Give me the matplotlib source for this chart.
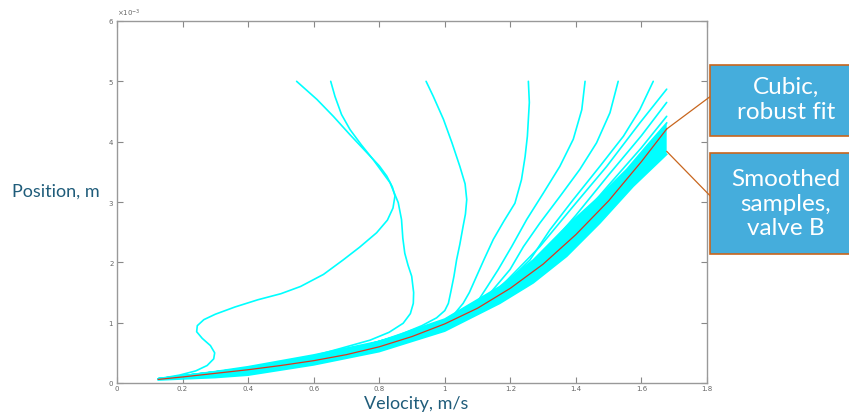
import numpy as np
import matplotlib.pyplot as plt
from matplotlib.patches import Rectangle
from matplotlib.ticker import ScalarFormatter

# positions in units of 1e-3 m, velocities in m/s

# cubic robust fit (red)
fit_v = [0.126, 0.2, 0.3, 0.4, 0.5, 0.6, 0.7, 0.8, 0.9, 1.0, 1.1, 1.2, 1.3, 1.4, 1.5, 1.6, 1.677]
fit_p = [0.06, 0.10, 0.16, 0.22, 0.29, 0.37, 0.47, 0.60, 0.77, 0.98, 1.24, 1.57, 1.97, 2.46, 3.02, 3.67, 4.21]

# dense bundle of smoothed samples: upper and lower edge
band_up_v = [0.126, 0.3, 0.4, 0.6, 0.8, 1.0, 1.168, 1.27, 1.372, 1.473, 1.555, 1.616, 1.677]
band_up_p = [0.07, 0.19, 0.27, 0.465, 0.69, 1.06, 1.60, 2.04, 2.60, 3.10, 3.54, 3.93, 4.31]
band_lo_v = [0.126, 0.3, 0.4, 0.6, 0.8, 1.0, 1.168, 1.27, 1.372, 1.473, 1.575, 1.677]
band_lo_p = [0.05, 0.09, 0.13, 0.30, 0.52, 0.86, 1.32, 1.66, 2.10, 2.65, 3.26, 3.79]

# individual samples that leave the bundle
a_v = [0.126, 0.19, 0.24, 0.275, 0.295, 0.298, 0.285, 0.26, 0.243, 0.245, 0.265, 0.30, 0.36, 0.43,
       0.50, 0.56, 0.63, 0.69, 0.74, 0.792, 0.825, 0.842, 0.848, 0.84, 0.823, 0.80, 0.762, 0.71,
       0.66, 0.61, 0.548]
a_p = [0.07, 0.13, 0.20, 0.29, 0.40, 0.50, 0.62, 0.74, 0.85, 0.95, 1.05, 1.14, 1.26, 1.38,
       1.48, 1.60, 1.80, 2.04, 2.25, 2.49, 2.70, 2.90, 3.10, 3.25, 3.43, 3.60, 3.82, 4.12,
       4.42, 4.70, 5.0]
b_v = [0.126, 0.3, 0.45, 0.6, 0.68, 0.772, 0.83, 0.873, 0.895, 0.904, 0.905, 0.899, 0.888, 0.878,
       0.872, 0.868, 0.858, 0.833, 0.782, 0.745, 0.711, 0.685, 0.665, 0.652]
b_p = [0.07, 0.17, 0.30, 0.45, 0.57, 0.71, 0.84, 0.99, 1.15, 1.32, 1.50, 1.77, 1.95, 2.15,
       2.40, 2.71, 2.99, 3.32, 3.70, 3.95, 4.20, 4.45, 4.75, 5.0]
c_v = [0.126, 0.4, 0.6, 0.75, 0.863, 0.93, 0.975, 1.0, 1.011, 1.018, 1.028, 1.036, 1.046, 1.056,
       1.063, 1.067, 1.062, 1.046, 1.022, 0.996, 0.965, 0.943]
c_p = [0.07, 0.20, 0.38, 0.58, 0.80, 0.95, 1.08, 1.20, 1.32, 1.50, 1.77, 2.04, 2.30, 2.60,
       2.80, 3.04, 3.30, 3.59, 3.98, 4.37, 4.75, 5.0]
d_v = [0.126, 0.4, 0.6, 0.8, 0.92, 0.985, 1.03, 1.056, 1.075, 1.097, 1.12, 1.148, 1.18, 1.214,
       1.234, 1.245, 1.252, 1.258, 1.255]
d_p = [0.07, 0.21, 0.38, 0.62, 0.82, 0.99, 1.15, 1.32, 1.50, 1.77, 2.05, 2.38, 2.68, 2.98,
       3.37, 3.75, 4.09, 4.65, 5.0]
e_v = [0.126, 0.6, 0.9, 1.0, 1.06, 1.10, 1.13, 1.163, 1.204, 1.250, 1.301, 1.351, 1.392, 1.418, 1.428]
e_p = [0.07, 0.38, 0.78, 0.98, 1.15, 1.35, 1.60, 1.88, 2.26, 2.71, 3.15, 3.59, 4.04, 4.53, 5.0]
f_v = [0.126, 0.6, 0.9, 1.0, 1.08, 1.14, 1.199, 1.240, 1.290, 1.351, 1.412, 1.463, 1.504, 1.529]
f_p = [0.07, 0.38, 0.78, 0.99, 1.20, 1.50, 1.88, 2.26, 2.65, 3.09, 3.54, 3.98, 4.48, 5.0]
g_v = [0.126, 0.6, 1.0, 1.10, 1.18, 1.260, 1.321, 1.392, 1.473, 1.545, 1.595, 1.636]
g_p = [0.07, 0.38, 1.0, 1.28, 1.62, 2.04, 2.54, 3.04, 3.59, 4.09, 4.53, 5.0]
h_v = [0.126, 0.6, 1.0, 1.15, 1.290, 1.392, 1.494, 1.595, 1.677]
h_p = [0.07, 0.38, 1.0, 1.48, 2.26, 2.93, 3.59, 4.31, 4.87]
i_v = [0.126, 0.6, 1.0, 1.15, 1.30, 1.40, 1.50, 1.60, 1.677]
i_p = [0.07, 0.38, 1.0, 1.45, 2.15, 2.78, 3.45, 4.10, 4.65]
j_v = [0.126, 0.6, 1.0, 1.15, 1.30, 1.40, 1.50, 1.60, 1.677]
j_p = [0.07, 0.38, 1.0, 1.43, 2.08, 2.65, 3.28, 3.90, 4.42]

samples = [(a_v, a_p), (b_v, b_p), (c_v, c_p), (d_v, d_p), (e_v, e_p),
           (f_v, f_p), (g_v, g_p), (h_v, h_p), (i_v, i_p), (j_v, j_p)]

x_ticks = [0, 0.2, 0.4, 0.6, 0.8, 1.0, 1.2, 1.4, 1.6, 1.8]
x_ticklabels = ['0', '0.2', '0.4', '0.6', '0.8', '1', '1.2', '1.4', '1.6', '1.8']

cyan = '#00FFFF'
label_col = '#1F5C7A'
box_col = '#45ADDC'
orange = '#C8661E'

W, H = 849, 413
fig = plt.figure(figsize=(W / 100, H / 100), dpi=100)
ax = fig.add_axes([117 / W, 30 / H, 590 / W, 362 / H])

# bundle
poly_v = np.r_[band_up_v, band_lo_v[::-1]]
poly_p = np.r_[band_up_p, band_lo_p[::-1]] * 1e-3
ax.fill(poly_v, poly_p, color=cyan, lw=0)
ax.plot(band_up_v, np.array(band_up_p) * 1e-3, color=cyan, lw=1.2)
ax.plot(band_lo_v, np.array(band_lo_p) * 1e-3, color=cyan, lw=1.2)

for v, p in samples:
    ax.plot(v, np.array(p) * 1e-3, color=cyan, lw=1.2, solid_capstyle='round',
            solid_joinstyle='round')

ax.plot(fit_v, np.array(fit_p) * 1e-3, color='#D9381E', lw=0.9)

ax.set_xlim(0, 1.8)
ax.set_ylim(0, 6e-3)
ax.set_xticks(x_ticks)
ax.set_xticklabels(x_ticklabels)
ax.set_yticks(np.arange(0, 7) * 1e-3)
fmt = ScalarFormatter(useMathText=True)
fmt.set_powerlimits((-2, 2))
ax.yaxis.set_major_formatter(fmt)
ax.yaxis.get_offset_text().set_fontsize(5)
ax.yaxis.get_offset_text().set_color('#666666')

ax.tick_params(axis='both', direction='in', length=4, width=0.8, colors='#888888',
               labelcolor='#666666', labelsize=5, pad=2, top=True, right=True)
for s in ax.spines.values():
    s.set_color('#999999')
    s.set_linewidth(1.0)

fig.text(56 / W, 1 - 192 / H, 'Position, m', ha='center', va='center',
         color=label_col, fontsize=13, family='Lato')
fig.text(416 / W, 1 - 404 / H, 'Velocity, m/s', ha='center', va='center',
         color=label_col, fontsize=13, family='Lato')

# callout boxes
fig.add_artist(Rectangle((710 / W, 1 - 136 / H), 160 / W, 71 / H, transform=fig.transFigure,
                         facecolor=box_col, edgecolor=orange, lw=1.2))
fig.add_artist(Rectangle((710 / W, 1 - 254 / H), 160 / W, 101 / H, transform=fig.transFigure,
                         facecolor=box_col, edgecolor=orange, lw=1.2))
fig.text(786 / W, 1 - 100 / H, 'Cubic,\nrobust fit', ha='center', va='center',
         color='white', fontsize=17.5, family='Lato', linespacing=1.2)
fig.text(786 / W, 1 - 204 / H, 'Smoothed\nsamples,\nvalve B', ha='center', va='center',
         color='white', fontsize=17.5, family='Lato', linespacing=1.2)

ax.annotate('', xy=(fit_v[-1], fit_p[-1] * 1e-3), xycoords='data',
            xytext=(710 / W, 1 - 96.7 / H), textcoords='figure fraction',
            arrowprops=dict(arrowstyle='-', color=orange, lw=0.9, shrinkA=0, shrinkB=0),
            annotation_clip=False)
ax.annotate('', xy=(band_lo_v[-1], (band_lo_p[-1] + 0.05) * 1e-3), xycoords='data',
            xytext=(710 / W, 1 - 195.7 / H), textcoords='figure fraction',
            arrowprops=dict(arrowstyle='-', color=orange, lw=0.9, shrinkA=0, shrinkB=0),
            annotation_clip=False)

fig.savefig('out.png', dpi=100)
